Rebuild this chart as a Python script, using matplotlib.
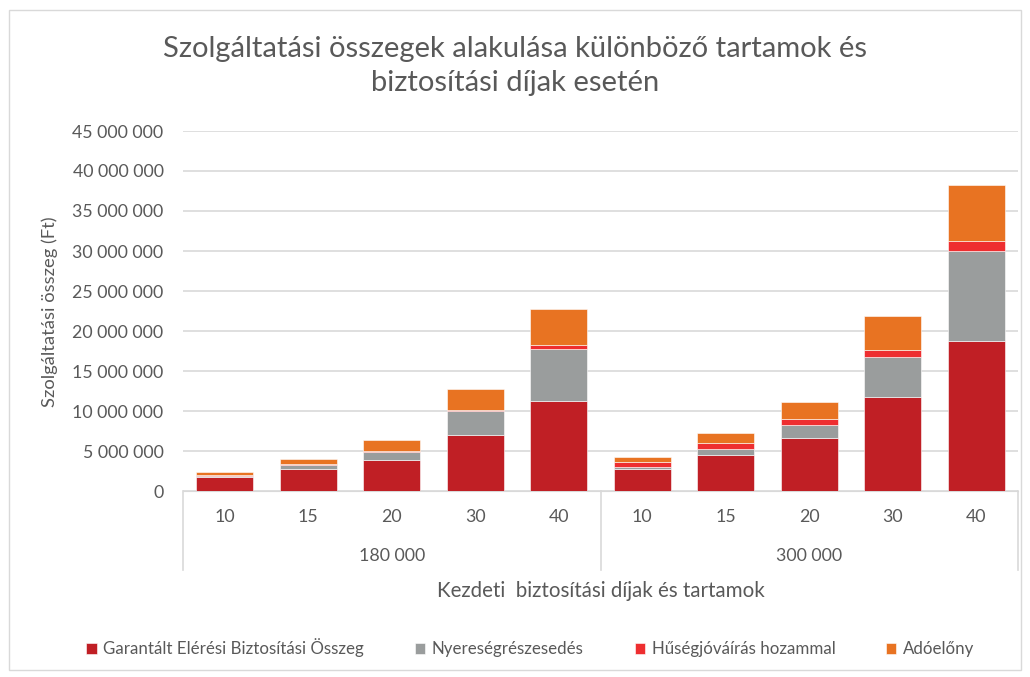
import matplotlib
matplotlib.use("Agg")
import matplotlib.pyplot as plt
from matplotlib.patches import Rectangle
from matplotlib.ticker import FuncFormatter, MultipleLocator
import numpy as np

plt.rcParams["font.family"] = ["Lato", "DejaVu Sans"]

groups = ["180 000", "300 000"]
terms = ["10", "15", "20", "30", "40"]

# millió Ft
garantalt = [1.75, 2.75, 3.85, 7.0, 11.3, 2.75, 4.5, 6.6, 11.7, 18.7]
nyereseg = [0.1, 0.45, 1.05, 2.95, 6.5, 0.25, 0.8, 1.65, 5.1, 11.3]
huseg = [0.1, 0.15, 0.15, 0.2, 0.5, 0.6, 0.65, 0.7, 0.85, 1.3]
adoeleny = [0.45, 0.65, 1.3, 2.55, 4.4, 0.6, 1.25, 2.15, 4.25, 7.0]

series = [
    ("Garantált Elérési Biztosítási Összeg", garantalt, "#C01F25"),
    ("Nyereségrészesedés", nyereseg, "#9A9D9D"),
    ("Hűségjóváírás hozammal", huseg, "#EE2E30"),
    ("Adóelőny", adoeleny, "#E87322"),
]

TXT = "#595959"
GRID = "#D9D9D9"

fig = plt.figure(figsize=(10.3, 6.77), dpi=100)
ax = fig.add_axes([183 / 1030, 1 - 491 / 677, 835 / 1030, 360 / 677])

x = np.arange(len(garantalt))
bottom = np.zeros(len(x))
for name, vals, col in series:
    v = np.array(vals) * 1e6
    ax.bar(x, v, 0.68, bottom=bottom, color=col, label=name,
           edgecolor="white", linewidth=0.4, zorder=3)
    bottom += v

ax.set_xlim(-0.5, len(x) - 0.5)
ax.set_ylim(0, 45e6)
ax.yaxis.set_major_locator(MultipleLocator(5e6))
ax.yaxis.set_major_formatter(
    FuncFormatter(lambda v, p: f"{int(v):,}".replace(",", " ")))
ax.grid(axis="y", color=GRID, linewidth=1.2, zorder=0)
for s in ["top", "right", "left"]:
    ax.spines[s].set_visible(False)
ax.spines["bottom"].set_color(GRID)
ax.tick_params(axis="y", length=0, labelsize=12.8, labelcolor=TXT, pad=14)
ax.tick_params(axis="x", length=0, labelbottom=False)

# kétszintű kategóriatengely
tr = ax.get_xaxis_transform()
for i, t in enumerate(terms * len(groups)):
    ax.text(i, -0.072, t, transform=tr, ha="center", va="center",
            fontsize=12.8, color=TXT)
for g, name in enumerate(groups):
    ax.text(g * len(terms) + (len(terms) - 1) / 2, -0.18, name,
            transform=tr, ha="center", va="center", fontsize=12.8, color=TXT)
for b in np.arange(len(groups) + 1) * len(terms) - 0.5:
    ax.plot([b, b], [0, -0.22], transform=tr, color=GRID, lw=1.2,
            clip_on=False)

ax.text(0.5, -0.278, "Kezdeti  biztosítási díjak és tartamok",
        transform=ax.transAxes, ha="center", va="center", fontsize=14.8, color=TXT)
fig.text(50 / 1030, 1 - 312 / 677, "Szolgáltatási összeg (Ft)", rotation=90,
         ha="center", va="center", fontsize=13.2, color=TXT)

fig.text(0.5, 1 - 66 / 677,
         "Szolgáltatási összegek alakulása különböző tartamok és\nbiztosítási díjak esetén",
         ha="center", va="center", fontsize=21, color=TXT, linespacing=1.42)

fig.legend(loc="center", bbox_to_anchor=(0.515, 1 - 648 / 677), ncol=4,
           frameon=False, fontsize=12.2, labelcolor=TXT, handlelength=0.6,
           handleheight=0.6, handletextpad=0.4, columnspacing=3.0)

fig.patches.append(Rectangle((9 / 1030, 1 - 670 / 677), 1012 / 1030, 660 / 677,
                             transform=fig.transFigure, fill=False,
                             edgecolor=GRID, lw=1))

fig.savefig("out.png", dpi=100, facecolor="white")
